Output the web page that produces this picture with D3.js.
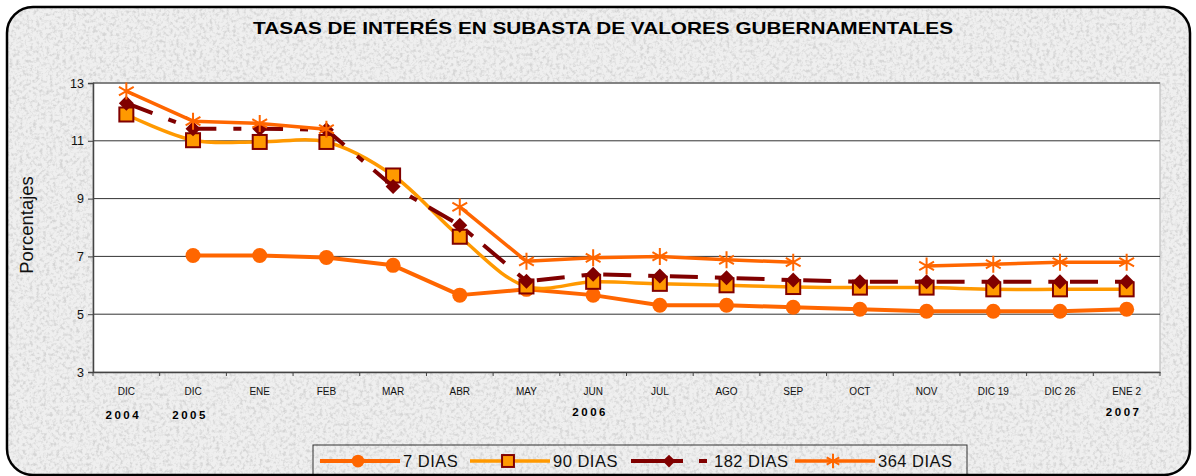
<!DOCTYPE html>
<html>
<head>
<meta charset="utf-8">
<script src="https://cdn.jsdelivr.net/npm/d3@7"></script>
<style>
  body { margin: 0; background: #fff; }
  svg { display: block; font-family: Arial, "Liberation Sans", sans-serif; }
</style>
</head>
<body>
<svg id="chart" width="1196" height="476"></svg>
<script>
const categories = ['DIC', 'DIC', 'ENE', 'FEB', 'MAR', 'ABR', 'MAY', 'JUN', 'JUL', 'AGO', 'SEP', 'OCT', 'NOV', 'DIC 19', 'DIC 26', 'ENE 2'];
const years = [['2004', 0, 419], ['2005', 1, 419], ['2006', 7, 416], ['2007', 15, 416]];

const dias7   = [null, 7.03, 7.03, 6.96, 6.69, 5.66, 5.86, 5.66, 5.31, 5.31, 5.24, 5.17, 5.10, 5.10, 5.10, 5.17];
const dias90  = [11.91, 11.02, 10.96, 10.96, 9.80, 7.68, 5.96, 6.12, 6.05, 6.00, 5.94, 5.92, 5.92, 5.86, 5.86, 5.86];
const dias182 = [12.30, 11.42, 11.42, 11.38, 9.42, 8.08, 6.14, 6.38, 6.32, 6.26, 6.18, 6.12, 6.12, 6.12, 6.12, 6.12];
const dias364 = [12.72, 11.68, 11.60, 11.40, null, 8.71, 6.83, 6.95, 7.00, 6.88, 6.80, null, 6.67, 6.73, 6.80, 6.80];

const yTicks = [3, 5, 7, 9, 11, 13];

const svg = d3.select('#chart');

// granite-like background texture
const defs = svg.append('defs');
const filt = defs.append('filter').attr('id', 'granite').attr('x', 0).attr('y', 0).attr('width', '100%').attr('height', '100%');
filt.append('feTurbulence').attr('type', 'fractalNoise').attr('baseFrequency', 0.3).attr('numOctaves', 3).attr('seed', 4);
filt.append('feColorMatrix').attr('type', 'matrix')
  .attr('values', '0 0 0 0 0.55  0 0 0 0 0.55  0 0 0 0 0.55  3 0 0 0 -1.35');
filt.append('feComposite').attr('in2', 'SourceGraphic').attr('operator', 'in');

defs.append('clipPath').attr('id', 'frameClip')
  .append('rect').attr('x', 7).attr('y', 7).attr('width', 1183).attr('height', 468).attr('rx', 26);

svg.append('rect')
  .attr('x', 7).attr('y', 7).attr('width', 1183).attr('height', 468).attr('rx', 26)
  .attr('fill', '#efefef');
svg.append('rect')
  .attr('x', 7).attr('y', 7).attr('width', 1183).attr('height', 468).attr('rx', 26)
  .attr('fill', '#999')
  .attr('opacity', 0.6)
  .attr('filter', 'url(#granite)');

const margin = { left: 93, top: 83, right: 1160, bottom: 372 };

const x = d3.scaleBand().domain(d3.range(categories.length)).range([margin.left, margin.right]);
const y = d3.scaleLinear().domain([3, 13]).range([margin.bottom, margin.top]);
const cx = i => x(i) + x.bandwidth() / 2;

// plot area
svg.append('rect')
  .attr('x', margin.left).attr('y', margin.top)
  .attr('width', margin.right - margin.left).attr('height', margin.bottom - margin.top)
  .attr('fill', '#fff').attr('stroke', '#c8c8c8').attr('stroke-width', 1.5);

// gridlines
svg.append('g').selectAll('line')
  .data(yTicks.filter(d => d > 3))
  .enter().append('line')
  .attr('x1', margin.left).attr('x2', margin.right)
  .attr('y1', d => y(d)).attr('y2', d => y(d))
  .attr('stroke', '#333').attr('stroke-width', 1);

// y axis
const yAxis = svg.append('g')
  .attr('transform', `translate(${margin.left},0)`)
  .call(d3.axisLeft(y).tickValues(yTicks).tickSize(5).tickPadding(4));
yAxis.select('.domain').attr('stroke', '#444').attr('stroke-width', 1.5);
yAxis.selectAll('.tick line').attr('stroke', '#444');
yAxis.selectAll('text').attr('font-size', 12.5).attr('fill', '#111').attr('font-family', 'Arial, "Liberation Sans", sans-serif');

// x axis
const xAxis = svg.append('g')
  .attr('transform', `translate(0,${margin.bottom})`)
  .call(d3.axisBottom(x).tickSize(0).tickFormat(i => categories[i]).tickPadding(16));
xAxis.select('.domain').attr('stroke', '#444').attr('stroke-width', 1.5);
xAxis.selectAll('text').attr('font-size', 10).attr('fill', '#111').attr('font-family', 'Arial, "Liberation Sans", sans-serif');
svg.append('g').selectAll('line')
  .data(d3.range(categories.length + 1))
  .enter().append('line')
  .attr('x1', i => margin.left + i * x.step()).attr('x2', i => margin.left + i * x.step())
  .attr('y1', margin.bottom).attr('y2', margin.bottom + 4)
  .attr('stroke', '#444').attr('stroke-width', 1);

svg.append('g').selectAll('text')
  .data(years)
  .enter().append('text')
  .attr('x', d => cx(d[1]) - 3).attr('y', d => d[2])
  .attr('text-anchor', 'middle')
  .attr('font-size', 11.5).attr('font-weight', 'bold').attr('letter-spacing', 2.5)
  .text(d => d[0]);

// title
svg.append('text')
  .attr('x', 603).attr('y', 34)
  .attr('text-anchor', 'middle')
  .attr('font-size', 17).attr('font-weight', 'bold')
  .attr('textLength', 700).attr('lengthAdjust', 'spacingAndGlyphs')
  .text('TASAS DE INTERÉS EN SUBASTA DE VALORES GUBERNAMENTALES');

svg.append('text')
  .attr('transform', 'translate(33,225) rotate(-90)')
  .attr('text-anchor', 'middle')
  .attr('font-size', 18.5)
  .attr('fill', '#111')
  .text('Porcentajes');

// series
const series = [
  { name: '7 DIAS', values: dias7, color: '#FF6600', width: 4, dash: null, curve: d3.curveLinear, marker: 'circle' },
  { name: '90 DIAS', values: dias90, color: '#FF9900', width: 3.5, dash: null, curve: d3.curveCatmullRom, marker: 'square' },
  { name: '182 DIAS', values: dias182, color: '#800000', width: 4, dash: '28,17,8,13.7', curve: d3.curveLinear, marker: 'diamond' },
  { name: '364 DIAS', values: dias364, color: '#FF6600', width: 3.5, dash: null, curve: d3.curveLinear, marker: 'star' }
];

function drawMarker(g, type, px, py, big) {
  const s = big ? 1 : 0.85;
  if (type === 'circle') {
    g.append('circle').attr('cx', px).attr('cy', py).attr('r', 7.5 * s).attr('fill', '#FF6600');
  } else if (type === 'square') {
    const h = 7 * s;
    g.append('rect').attr('x', px - h).attr('y', py - h).attr('width', 2 * h).attr('height', 2 * h)
      .attr('fill', '#FF9900').attr('stroke', '#800000').attr('stroke-width', 2);
  } else if (type === 'diamond') {
    const h = 7.5 * s;
    g.append('path').attr('d', `M${px},${py - h}L${px + h},${py}L${px},${py + h}L${px - h},${py}Z`)
      .attr('fill', '#800000');
  } else {
    const h = 8.5 * s;
    const d = [[0, -h, 0, h], [-h * 0.87, -h * 0.5, h * 0.87, h * 0.5], [-h * 0.87, h * 0.5, h * 0.87, -h * 0.5]]
      .map(a => `M${px + a[0]},${py + a[1]}L${px + a[2]},${py + a[3]}`).join('');
    g.append('path').attr('d', d).attr('stroke', '#FF6600').attr('stroke-width', 2).attr('fill', 'none');
  }
}

series.forEach(s => {
  const line = d3.line()
    .defined(d => d != null)
    .x((d, i) => cx(i))
    .y(d => y(d))
    .curve(s.curve);
  const g = svg.append('g');
  g.append('path')
    .attr('d', line(s.values))
    .attr('fill', 'none')
    .attr('stroke', s.color)
    .attr('stroke-width', s.width)
    .attr('stroke-dasharray', s.dash)
    .attr('stroke-linejoin', 'round');
  s.values.forEach((v, i) => {
    if (v != null) drawMarker(g, s.marker, cx(i), y(v), true);
  });
});

// legend
const lg = svg.append('g').attr('clip-path', 'url(#frameClip)');
lg.append('rect')
  .attr('x', 313).attr('y', 445).attr('width', 654).attr('height', 40)
  .attr('fill', 'none').attr('stroke', '#333').attr('stroke-width', 1);

const legendX = [320, 470, 631, 795];
series.forEach((s, i) => {
  const lx = legendX[i];
  const ly = 461;
  if (s.dash) {
    lg.append('line').attr('x1', lx).attr('x2', lx + 52).attr('y1', ly).attr('y2', ly)
      .attr('stroke', s.color).attr('stroke-width', 4);
    lg.append('line').attr('x1', lx + 68).attr('x2', lx + 76).attr('y1', ly).attr('y2', ly)
      .attr('stroke', s.color).attr('stroke-width', 4);
    drawMarker(lg, s.marker, lx + 38, ly, false);
  } else {
    lg.append('line').attr('x1', lx).attr('x2', lx + 80).attr('y1', ly).attr('y2', ly)
      .attr('stroke', s.color).attr('stroke-width', s.width);
    drawMarker(lg, s.marker, lx + 38, ly, false);
  }
  lg.append('text')
    .attr('x', lx + 83).attr('y', ly + 6)
    .attr('font-size', 16.5).attr('fill', '#111').attr('letter-spacing', 0.5)
    .text(s.name);
});

// frame border
svg.append('rect')
  .attr('x', 7).attr('y', 7).attr('width', 1183).attr('height', 468).attr('rx', 26)
  .attr('fill', 'none').attr('stroke', '#000').attr('stroke-width', 2.5);
</script>
</body>
</html>
